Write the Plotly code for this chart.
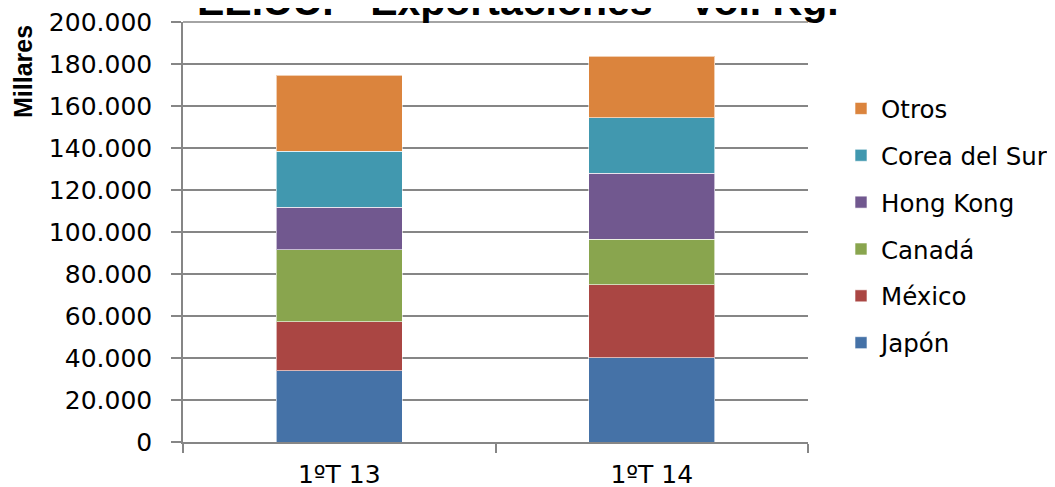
import plotly.graph_objects as go

categories = ["1ºT 13", "1ºT 14"]
series_names = ["Japón", "México", "Canadá", "Hong Kong", "Corea del Sur", "Otros"]
japon = [34000, 40100]
mexico = [23300, 34800]
canada = [34300, 21600]
hong_kong = [20200, 31500]
corea_del_sur = [26600, 26400]
otros = [36200, 29400]
y_tick_values = [0, 20000, 40000, 60000, 80000, 100000, 120000, 140000, 160000, 180000, 200000]
y_tick_labels = ["0", "20.000", "40.000", "60.000", "80.000", "100.000", "120.000",
                 "140.000", "160.000", "180.000", "200.000"]

colors = ["#4572A7", "#AA4643", "#89A54E", "#71588F", "#4198AF", "#DB843D"]
values = [japon, mexico, canada, hong_kong, corea_del_sur, otros]

fig = go.Figure()
n = len(series_names)
for i, (name, vals, col) in enumerate(zip(series_names, values, colors)):
    fig.add_trace(go.Bar(
        x=categories, y=vals, name=name, legendgroup=name, legendrank=n - i,
        marker=dict(color=col, line=dict(color="rgba(255,255,255,0.6)", width=1)),
    ))

AXIS_GRAY = "#868686"
BASE_FONT = "DejaVu Sans"
BOLD_FONT = "Liberation Sans, Arial"

# plot area (figure coords): x 175..800, y 14..434
PL, PR, PT, PB = 175, 800, 14, 434
PW, PH = PR - PL, PB - PT

fig.update_layout(
    width=1055, height=487,
    barmode="stack", bargap=0.597,
    plot_bgcolor="white", paper_bgcolor="white",
    margin=dict(l=PL, r=1055 - PR, t=PT, b=487 - PB, autoexpand=False),
    font=dict(family=BASE_FONT, size=25, color="#000000"),
    showlegend=True,
    legend=dict(
        x=(833 - PL) / PW, xanchor="left", y=(PB - 78) / PH, yanchor="top",
        traceorder="grouped", tracegroupgap=12,
        font=dict(family=BASE_FONT, size=24.5, color="#000000"),
        bgcolor="rgba(0,0,0,0)",
    ),
    annotations=[
        dict(
            text="<b>EE.UU. - Exportaciones - Vol. Kg.</b>",
            font=dict(family=BOLD_FONT, size=41, color="#000000"),
            xref="paper", yref="paper", x=(510 - PL) / PW, y=(PB + 7) / PH,
            xanchor="center", yanchor="middle", showarrow=False,
        ),
        dict(
            text="<b>Millares</b>", textangle=-90,
            font=dict(family=BOLD_FONT, size=25, color="#000000"),
            xref="paper", yref="paper", x=-(PL - 15) / PW, y=(PB - 64) / PH,
            xanchor="center", yanchor="middle", showarrow=False,
        ),
    ],
    shapes=[dict(
        # top gridline (plotly skips the grid line lying on the plot edge)
        type="line", xref="paper", yref="paper", x0=0, x1=1, y0=1, y1=1,
        line=dict(color=AXIS_GRAY, width=1.5), layer="above",
    )],
)

fig.update_yaxes(
    range=[0, 200000], tickvals=y_tick_values, ticktext=y_tick_labels,
    showgrid=True, gridcolor=AXIS_GRAY, gridwidth=1.5,
    showline=True, linecolor=AXIS_GRAY, linewidth=1.5,
    ticks="outside", ticklen=10, tickcolor=AXIS_GRAY, tickwidth=1.5,
    ticklabelstandoff=14, ticklabeloverflow="allow", zeroline=False,
    tickfont=dict(family=BASE_FONT, size=25, color="#000000"),
)
fig.update_xaxes(
    showline=True, linecolor=AXIS_GRAY, linewidth=1.5,
    ticks="outside", ticklen=9, tickcolor=AXIS_GRAY, tickwidth=1.5,
    tickson="boundaries", ticklabelstandoff=9, ticklabeloverflow="allow",
    tickfont=dict(family=BASE_FONT, size=25, color="#000000"),
)

fig.write_html("out.html")
